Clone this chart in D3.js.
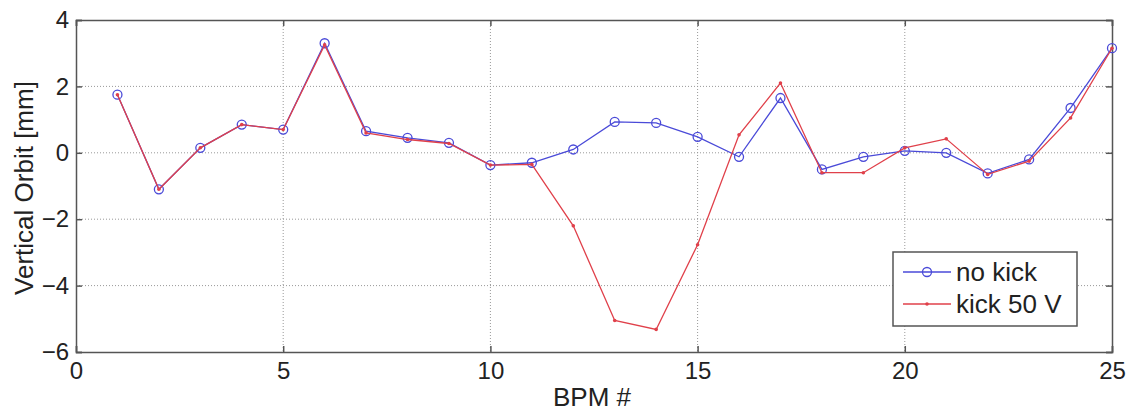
<!DOCTYPE html>
<html><head><meta charset="utf-8">
<script src="https://cdn.jsdelivr.net/npm/d3@7"></script>
<style>body{margin:0;background:#fff}svg{display:block}</style>
</head><body>
<svg id="c" width="1128" height="412"></svg>
<script>
const bpm = d3.range(1, 26);
const noKick = [1.75,-1.1,0.15,0.85,0.7,3.3,0.65,0.45,0.3,-0.37,-0.3,0.1,0.93,0.9,0.48,-0.12,1.65,-0.5,-0.12,0.06,0.0,-0.62,-0.2,1.35,3.15];
const kick50 = [1.75,-1.1,0.15,0.85,0.7,3.25,0.6,0.4,0.28,-0.37,-0.35,-2.2,-5.05,-5.32,-2.77,0.54,2.1,-0.6,-0.6,0.15,0.42,-0.65,-0.25,1.05,3.15];
const xTicks = [0,5,10,15,20,25];
const yTicks = [-6,-4,-2,0,2,4];
const seriesNames = ["no kick","kick 50 V"];

const svg = d3.select("#c");
const L=76, R=1112, T=20, B=352;
const x = d3.scaleLinear().domain([0,25]).range([L,R]);
const y = d3.scaleLinear().domain([-6,4]).range([B,T]);
const font = "Liberation Sans, Arial, sans-serif";

// grid
const g = svg.append("g");
g.selectAll(".gx").data(xTicks.slice(1,-1)).join("line")
  .attr("x1",d=>x(d)).attr("x2",d=>x(d)).attr("y1",T).attr("y2",B)
  .attr("stroke","#999").attr("stroke-width",1).attr("stroke-dasharray","1,2");
g.selectAll(".gy").data(yTicks.slice(1,-1)).join("line")
  .attr("y1",d=>y(d)).attr("y2",d=>y(d)).attr("x1",L).attr("x2",R)
  .attr("stroke","#999").attr("stroke-width",1).attr("stroke-dasharray","1,2");

// axes with inward ticks
const ax = svg.append("g").attr("transform",`translate(0,${B})`)
  .call(d3.axisBottom(x).tickValues(xTicks).tickSize(-6).tickPadding(10).tickFormat(d3.format("d")));
const ay = svg.append("g").attr("transform",`translate(${L},0)`)
  .call(d3.axisLeft(y).tickValues(yTicks).tickSize(-6).tickPadding(7).tickFormat(d3.format("d")));
const axT = svg.append("g").attr("transform",`translate(0,${T})`)
  .call(d3.axisTop(x).tickValues(xTicks).tickSize(-6).tickFormat(""));
const ayR = svg.append("g").attr("transform",`translate(${R},0)`)
  .call(d3.axisRight(y).tickValues(yTicks).tickSize(-6).tickFormat(""));
[ax,ay,axT,ayR].forEach(a=>{
  a.select(".domain").attr("stroke","#555").attr("stroke-width",1.5);
  a.selectAll(".tick line").attr("stroke","#555").attr("stroke-width",1.5);
  a.selectAll("text").attr("font-family",font).attr("font-size",24).attr("fill","#222");
});
ax.selectAll(".tick text").attr("dy","0.71em");

// axis labels
svg.append("text").attr("x",592).attr("y",406).attr("text-anchor","middle")
  .attr("font-family",font).attr("font-size",26).attr("fill","#222").text("BPM #");
svg.append("text").attr("transform",`translate(33,188) rotate(-90)`).attr("text-anchor","middle")
  .attr("font-family",font).attr("font-size",26).attr("fill","#222").text("Vertical Orbit [mm]");

const line = d3.line().x((d,i)=>x(bpm[i])).y(d=>y(d));
// blue
svg.append("path").datum(noKick).attr("d",line).attr("fill","none").attr("stroke","#4a4ad8").attr("stroke-width",1.3);
svg.selectAll(".c1").data(noKick).join("circle").attr("cx",(d,i)=>x(bpm[i])).attr("cy",d=>y(d)).attr("r",4.5)
  .attr("fill","none").attr("stroke","#4a4ad8").attr("stroke-width",1.3);
// red
svg.append("path").datum(kick50).attr("d",line).attr("fill","none").attr("stroke","#e0404a").attr("stroke-width",1.3);
svg.selectAll(".c2").data(kick50).join("circle").attr("cx",(d,i)=>x(bpm[i])).attr("cy",d=>y(d)).attr("r",1.8)
  .attr("fill","#e0404a");

// legend
const lg = svg.append("g");
lg.append("rect").attr("x",893).attr("y",252).attr("width",184).attr("height",74)
  .attr("fill","#fff").attr("stroke","#555").attr("stroke-width",1.5);
const colors = ["#4a4ad8","#e0404a"];
seriesNames.forEach((n,i)=>{
  const yy = 272 + i*32;
  lg.append("line").attr("x1",903).attr("x2",951).attr("y1",yy).attr("y2",yy).attr("stroke",colors[i]).attr("stroke-width",1.3);
  if(i===0) lg.append("circle").attr("cx",927).attr("cy",yy).attr("r",4.5).attr("fill","none").attr("stroke",colors[i]).attr("stroke-width",1.3);
  else lg.append("circle").attr("cx",927).attr("cy",yy).attr("r",1.8).attr("fill",colors[i]);
  lg.append("text").attr("x",956).attr("y",yy+9).attr("font-family",font).attr("font-size",26).attr("fill","#222").text(n);
});
</script>
</body></html>
